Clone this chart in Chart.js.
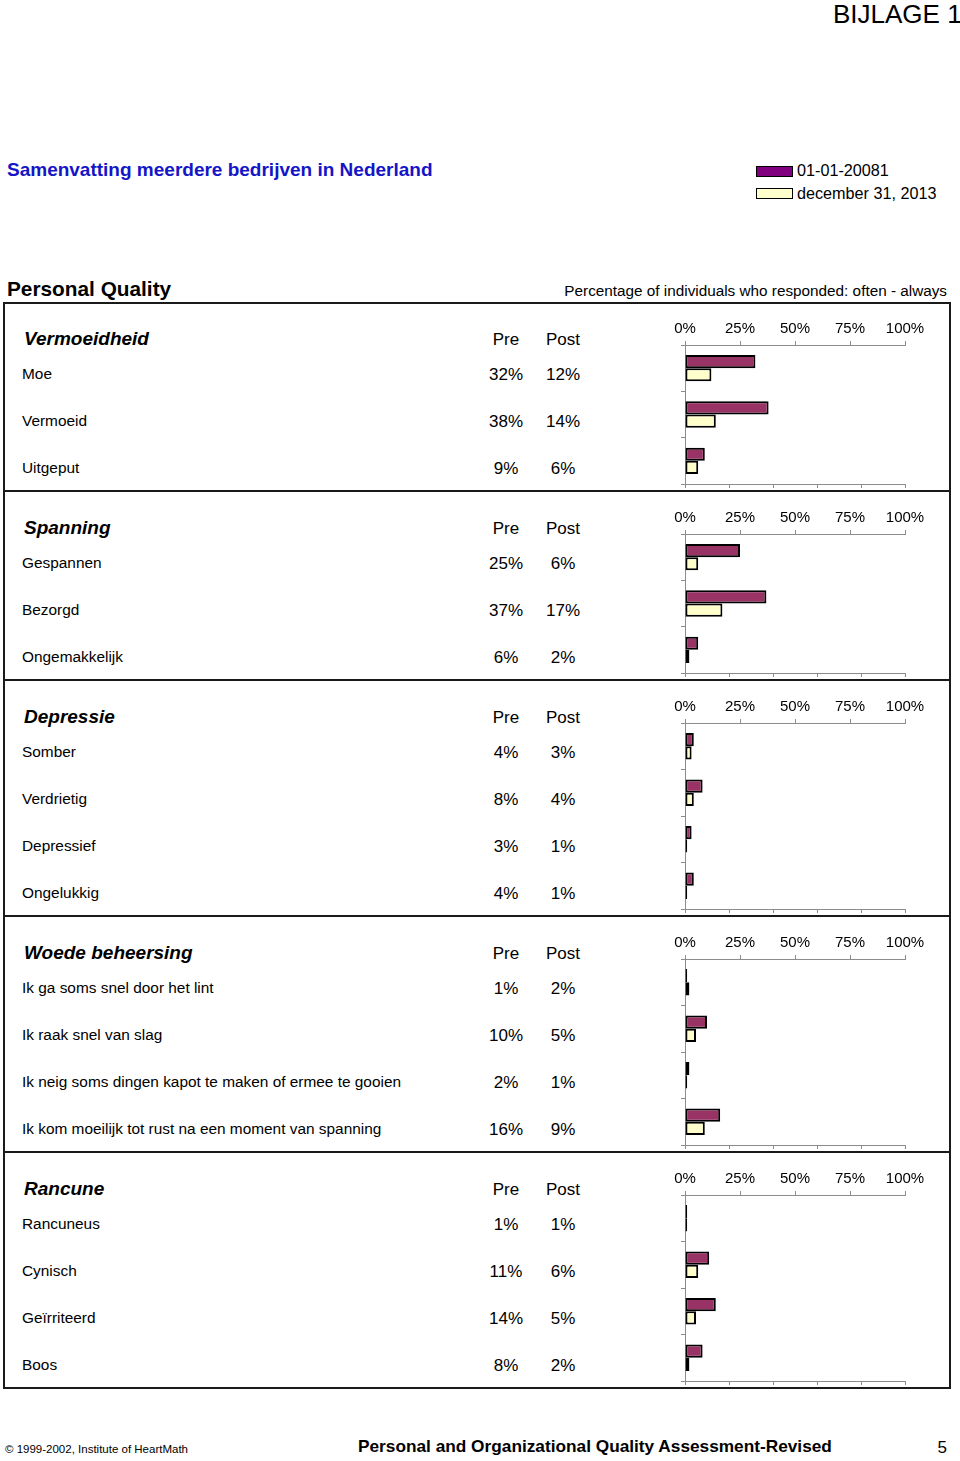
<!DOCTYPE html>
<html>
<head>
<meta charset="utf-8">
<script src="https://cdn.jsdelivr.net/npm/chart.js@4/dist/chart.umd.min.js"></script>
<style>
  html, body { margin:0; padding:0; background:#fff; }
  body { width:960px; height:1461px; position:relative; overflow:hidden; font-family:"Liberation Sans", Arial, Helvetica, sans-serif; color:#000; }
  .abs { position:absolute; white-space:nowrap; line-height:1; }
  .box { position:absolute; left:3px; top:302px; width:944px; height:1083px; border:2px solid #1a1a1a; }
  .sep { position:absolute; left:3px; width:948px; height:2px; background:#1a1a1a; }
  .swatch { position:absolute; width:35px; height:9px; border:1px solid #000; }
  canvas { position:absolute; }
</style>
</head>
<body>
<script>
// ---------- DATA ----------
const sectionTitles = ["Vermoeidheid", "Spanning", "Depressie", "Woede beheersing", "Rancune"];

const vermoeidheidItems = ["Moe", "Vermoeid", "Uitgeput"];
const vermoeidheidPre  = [32, 38, 9];
const vermoeidheidPost = [12, 14, 6];

const spanningItems = ["Gespannen", "Bezorgd", "Ongemakkelijk"];
const spanningPre  = [25, 37, 6];
const spanningPost = [6, 17, 2];

const depressieItems = ["Somber", "Verdrietig", "Depressief", "Ongelukkig"];
const depressiePre  = [4, 8, 3, 4];
const depressiePost = [3, 4, 1, 1];

const woedeItems = ["Ik ga soms snel door het lint", "Ik raak snel van slag",
  "Ik neig soms dingen kapot te maken of ermee te gooien",
  "Ik kom moeilijk tot rust na een moment van spanning"];
const woedePre  = [1, 10, 2, 16];
const woedePost = [2, 5, 1, 9];

const rancuneItems = ["Rancuneus", "Cynisch", "Geïrriteerd", "Boos"];
const rancunePre  = [1, 11, 14, 8];
const rancunePost = [1, 6, 5, 2];

const seriesNames = ["01-01-20081", "december 31, 2013"];
const topTicks = [0, 25, 50, 75, 100];

// ---------- LAYOUT ----------
const FONT = '"Liberation Sans", Arial, Helvetica, sans-serif';
const sections = [
  [vermoeidheidItems, vermoeidheidPre, vermoeidheidPost],
  [spanningItems, spanningPre, spanningPost],
  [depressieItems, depressiePre, depressiePost],
  [woedeItems, woedePre, woedePost],
  [rancuneItems, rancunePre, rancunePost]
];

function addText(txt, x, y, css, anchor) {
  const d = document.createElement('div');
  d.className = 'abs';
  d.textContent = txt;
  d.style.cssText += css;
  d.style.left = x + 'px';
  d.style.top = y + 'px';
  let tx = '0';
  if (anchor === 'center') tx = '-50%';
  if (anchor === 'right') tx = '-100%';
  d.style.transform = 'translate(' + tx + ',-50%)';
  document.body.appendChild(d);
  return d;
}

// header texts
addText("BIJLAGE 1", 833, 14, 'font-size:26px;', 'left');
addText("Samenvatting meerdere bedrijven in Nederland", 7, 169, 'font-size:19px;font-weight:bold;color:#1515c8;', 'left');
addText(seriesNames[0], 797, 170, 'font-size:16.2px;', 'left');
addText(seriesNames[1], 797, 193, 'font-size:16.2px;', 'left');
const sw1 = document.createElement('div'); sw1.className='swatch';
sw1.style.cssText += 'left:756px;top:166px;background:#800080;'; document.body.appendChild(sw1);
const sw2 = document.createElement('div'); sw2.className='swatch';
sw2.style.cssText += 'left:756px;top:188px;background:#FFFFCC;'; document.body.appendChild(sw2);
addText("Personal Quality", 7, 289, 'font-size:20.8px;font-weight:bold;', 'left');
addText("Percentage of individuals who responded: often - always", 947, 291, 'font-size:15.3px;', 'right');

// footer
addText("© 1999-2002, Institute of HeartMath", 5, 1450, 'font-size:11.5px;', 'left');
addText("Personal and Organizational Quality Assessment-Revised", 358, 1447, 'font-size:17.25px;font-weight:bold;', 'left');
addText("5", 947, 1447, 'font-size:17px;', 'right');

// outer box
const box = document.createElement('div'); box.className = 'box'; document.body.appendChild(box);

const ROW = 47;
const CAT = 46.4;
let secTop = 302;
sections.forEach((sec, si) => {
  const [items, pre, post] = sec;
  const n = items.length;
  const h = 48 + n * ROW;
  if (si > 0) {
    const s = document.createElement('div'); s.className = 'sep';
    s.style.top = (secTop - 1) + 'px'; document.body.appendChild(s);
  }
  addText(sectionTitles[si], 24, secTop + 36, 'font-size:19px;font-weight:bold;font-style:italic;', 'left');
  addText("Pre", 506, secTop + 37, 'font-size:17px;', 'center');
  addText("Post", 563, secTop + 37, 'font-size:17px;', 'center');
  items.forEach((it, i) => {
    const y = secTop + 72 + ROW * i;
    addText(it, 22, y, 'font-size:15.4px;', 'left');
    addText(pre[i] + '%', 506, y, 'font-size:17px;', 'center');
    addText(post[i] + '%', 563, y, 'font-size:17px;', 'center');
  });

  // chart
  const cw = 290, chH = 33 + n * CAT + 8;
  const cv = document.createElement('canvas');
  cv.style.left = '660px';
  cv.style.top = (secTop + 10) + 'px';
  cv.width = cw; cv.height = Math.round(chH);
  cv.style.width = cw + 'px'; cv.style.height = Math.round(chH) + 'px';
  document.body.appendChild(cv);

  new Chart(cv, {
    type: 'bar',
    data: {
      labels: items,
      datasets: [
        { label: seriesNames[0], data: pre, backgroundColor: '#993366', borderColor: '#000', borderWidth: 2, borderSkipped: false, categoryPercentage: 0.57, barPercentage: 1.0 },
        { label: seriesNames[1], data: post, backgroundColor: '#FFFFCC', borderColor: '#000', borderWidth: 2, borderSkipped: false, categoryPercentage: 0.57, barPercentage: 1.0 }
      ]
    },
    options: {
      indexAxis: 'y',
      responsive: false,
      animation: false,
      devicePixelRatio: 1,
      layout: { padding: { left: 0, right: 45, top: 0, bottom: 0 } },
      plugins: { legend: { display: false }, tooltip: { enabled: false } },
      scales: {
        x: {
          type: 'linear', position: 'top', min: 0, max: 100,
          afterBuildTicks: s => { s.ticks = topTicks.map(v => ({ value: v })); },
          ticks: { callback: v => v + '%', font: { size: 15, family: FONT }, color: '#000', padding: 3, maxRotation: 0, autoSkip: false },
          grid: { drawOnChartArea: false, tickLength: 4, color: '#8c8c8c' },
          border: { color: '#8c8c8c' },
          afterFit: s => { s.height = 33; }
        },
        x2: {
          type: 'linear', position: 'bottom', min: 0, max: 100,
          ticks: { stepSize: 20, display: false },
          grid: { drawOnChartArea: false, tickLength: 4, color: '#8c8c8c' },
          border: { color: '#8c8c8c' },
          afterFit: s => { s.height = 8; }
        },
        y: {
          ticks: { display: false },
          grid: { offset: true, drawOnChartArea: false, tickLength: 4, color: '#8c8c8c' },
          border: { color: '#8c8c8c' },
          afterFit: s => { s.width = 25; }
        }
      }
    }
  });
  secTop += h;
});
</script>
</body>
</html>
